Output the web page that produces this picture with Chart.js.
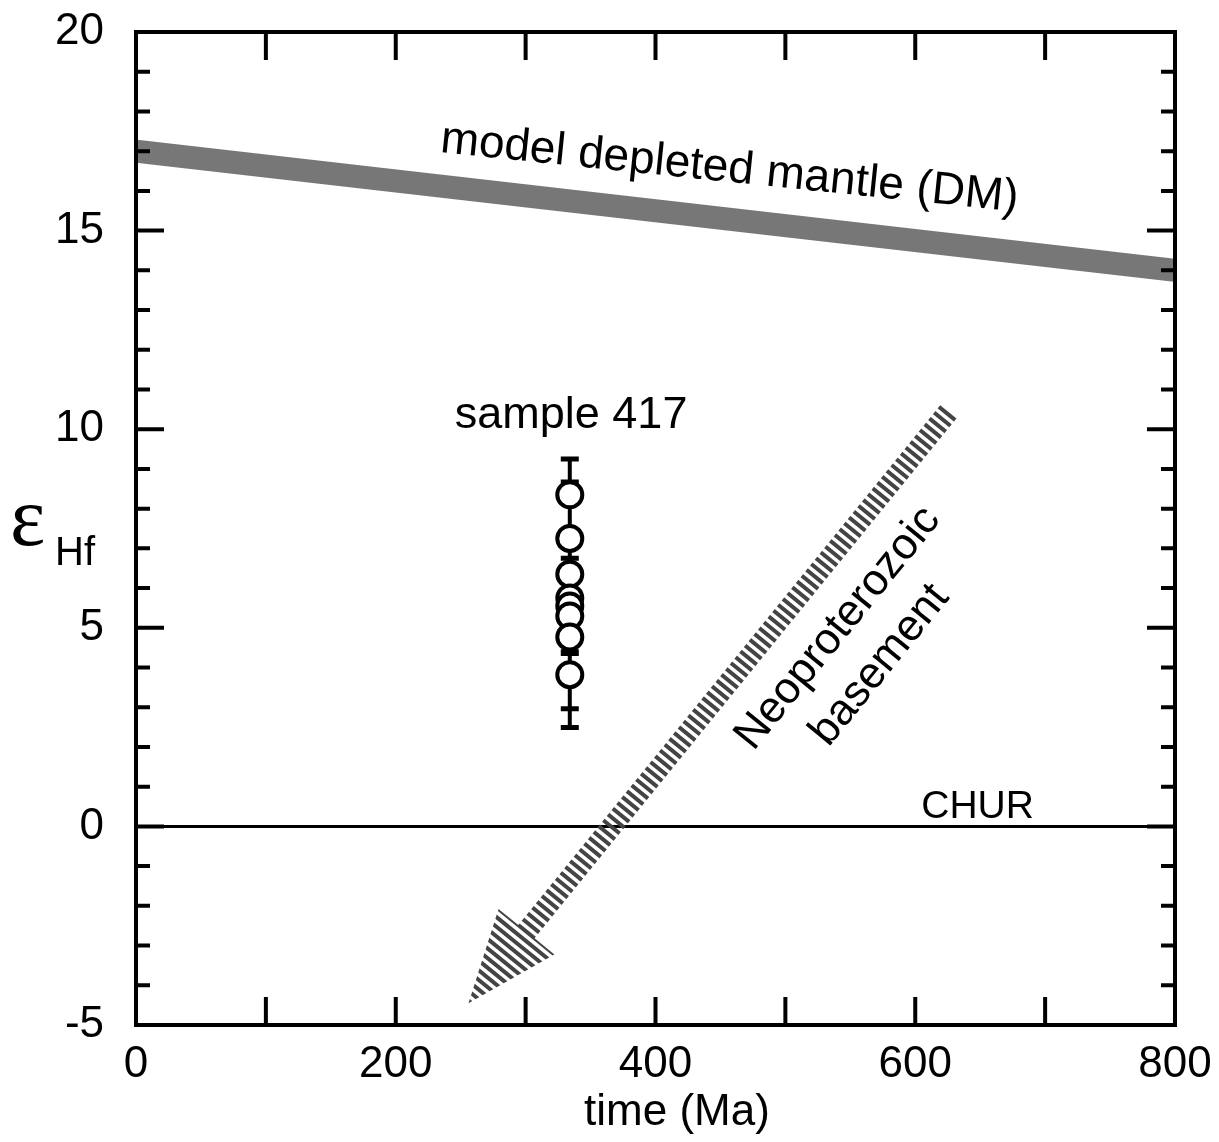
<!DOCTYPE html>
<html lang="en">
<head>
  <meta charset="UTF-8" />
  <title>eHf vs time</title>
  <script src="https://cdn.jsdelivr.net/npm/chart.js"></script>
  <style>
    html, body { margin: 0; padding: 0; background: #fff; }
    #wrap { width: 1219px; height: 1142px; }
  </style>
</head>
<body>
  <div id="wrap"><canvas id="graphe"></canvas></div>
<script>
  // axes
  const xTicks = [0, 200, 400, 600, 800];
  const yTicks = [-5, 0, 5, 10, 15, 20];

  // model depleted mantle (DM) and CHUR reference lines
  const dmTime = [0, 800];
  const dmEps = [17.0, 14.0];
  const churTime = [0, 800];
  const churEps = [0, 0];

  // sample 417 zircons (eHf with 2 sigma)
  const sampleTime = [334, 334, 334, 334, 334, 334, 334, 334];
  const sampleEps = [8.35, 7.25, 6.35, 5.75, 5.55, 5.3, 4.77, 3.82];
  const sampleErr = [0.9, 1.42, 0.9, 1.0, 1.2, 0.9, 2.28, 0.86];

  // Neoproterozoic basement evolution arrow: start, tip
  const arrowTime = [627, 256];
  const arrowEps = [10.5, -4.45];

  const FONT = '"Liberation Sans", Arial, sans-serif';

  function pts(xs, ys) {
    return xs.map((v, i) => ({ x: v, y: ys[i] }));
  }

  // error bars, drawn under the circles
  const errorBars = {
    id: 'errorBars',
    beforeDatasetDraw(chart, args) {
      if (args.index !== 2) return;
      const { ctx, scales: { x, y } } = chart;
      ctx.save();
      ctx.strokeStyle = '#000';
      ctx.lineWidth = 4;
      ctx.beginPath();
      for (let i = 0; i < sampleEps.length; i++) {
        const px = x.getPixelForValue(sampleTime[i]);
        const top = y.getPixelForValue(sampleEps[i] + sampleErr[i]);
        const bot = y.getPixelForValue(sampleEps[i] - sampleErr[i]);
        ctx.moveTo(px, top); ctx.lineTo(px, bot);
      }
      ctx.stroke();
      ctx.lineWidth = 5;
      ctx.beginPath();
      for (let i = 0; i < sampleEps.length; i++) {
        const px = x.getPixelForValue(sampleTime[i]);
        const top = y.getPixelForValue(sampleEps[i] + sampleErr[i]);
        const bot = y.getPixelForValue(sampleEps[i] - sampleErr[i]);
        ctx.moveTo(px - 9, top); ctx.lineTo(px + 9, top);
        ctx.moveTo(px - 9, bot); ctx.lineTo(px + 9, bot);
      }
      ctx.stroke();
      ctx.restore();
    }
  };

  // hatched arrow, labels, frame with inward ticks
  const decor = {
    id: 'decor',
    afterDatasetsDraw(chart) {
      const { ctx, chartArea: a, scales: { x, y } } = chart;

      // arrow
      const tx = x.getPixelForValue(arrowTime[1]), ty = y.getPixelForValue(arrowEps[1]);
      const sx = x.getPixelForValue(arrowTime[0]), sy = y.getPixelForValue(arrowEps[0]);
      const len = Math.hypot(sx - tx, sy - ty);
      const ang = Math.atan2(sy - ty, sx - tx);
      const headLen = 92, headHalf = 36, shaftHalf = 10.5;
      ctx.save();
      ctx.translate(tx, ty);
      ctx.rotate(ang);
      ctx.beginPath();
      ctx.moveTo(0, 0);
      ctx.lineTo(headLen, -headHalf);
      ctx.lineTo(headLen, -shaftHalf);
      ctx.lineTo(len, -shaftHalf);
      ctx.lineTo(len, shaftHalf);
      ctx.lineTo(headLen, shaftHalf);
      ctx.lineTo(headLen, headHalf);
      ctx.closePath();
      ctx.clip();
      ctx.fillStyle = '#444444';
      for (let s = 0; s < len; s += 7.5) ctx.fillRect(s, -headHalf, 4, headHalf * 2);
      ctx.restore();

      // texts
      ctx.save();
      ctx.fillStyle = '#000';
      ctx.font = '45px ' + FONT;
      ctx.textAlign = 'center';
      ctx.textBaseline = 'alphabetic';
      ctx.fillText('sample 417', x.getPixelForValue(335), y.getPixelForValue(10.03));

      // DM label follows the DM line
      const dmAng = Math.atan2(y.getPixelForValue(dmEps[1]) - y.getPixelForValue(dmEps[0]),
                               x.getPixelForValue(dmTime[1]) - x.getPixelForValue(dmTime[0]));
      ctx.save();
      ctx.font = '46px ' + FONT;
      ctx.translate(x.getPixelForValue(456), y.getPixelForValue(16.23));
      ctx.rotate(dmAng * 0.9);
      ctx.fillText('model depleted mantle (DM)', 0, 0);
      ctx.restore();

      ctx.save();
      ctx.font = '39px ' + FONT;
      ctx.fillText('CHUR', x.getPixelForValue(648), y.getPixelForValue(0.21));
      ctx.restore();

      // basement label along the arrow
      ctx.font = '44px ' + FONT;
      ctx.textBaseline = 'middle';
      ctx.save();
      ctx.translate(x.getPixelForValue(540.5), y.getPixelForValue(4.99));
      ctx.rotate(ang);
      ctx.fillText('Neoproterozoic', 0, 0);
      ctx.restore();
      ctx.save();
      ctx.translate(x.getPixelForValue(572.8), y.getPixelForValue(4.06));
      ctx.rotate(ang);
      ctx.fillText('basement', 0, 0);
      ctx.restore();

      // axis titles
      ctx.textBaseline = 'alphabetic';
      ctx.fillText('time (Ma)', x.getPixelForValue(416.5), a.bottom + 100);
      ctx.textAlign = 'left';
      ctx.font = '84px "Liberation Serif", "Times New Roman", serif';
      ctx.fillText('\u03b5', a.left - 126, 545);
      ctx.font = '40px ' + FONT;
      ctx.fillText('Hf', a.left - 81, 565);
      ctx.restore();

      // frame and inward ticks
      ctx.save();
      ctx.strokeStyle = '#000';
      ctx.lineWidth = 4;
      ctx.beginPath();
      for (let v = x.min; v <= x.max; v += 100) {
        const px = x.getPixelForValue(v);
        ctx.moveTo(px, a.bottom); ctx.lineTo(px, a.bottom - 28);
        ctx.moveTo(px, a.top); ctx.lineTo(px, a.top + 28);
      }
      for (let v = y.min; v <= y.max; v += 1) {
        const py = y.getPixelForValue(v);
        const tl = v % 5 === 0 ? 28 : 14;
        ctx.moveTo(a.left, py); ctx.lineTo(a.left + tl, py);
        ctx.moveTo(a.right, py); ctx.lineTo(a.right - tl, py);
      }
      ctx.stroke();
      ctx.strokeRect(a.left, a.top, a.right - a.left, a.bottom - a.top);
      ctx.restore();
    }
  };

  document.addEventListener("DOMContentLoaded", function () {
    const ctx = document.getElementById('graphe').getContext('2d');
    new Chart(ctx, {
      type: 'scatter',
      data: {
        datasets: [
          {
            label: 'DM',
            data: pts(dmTime, dmEps),
            showLine: true,
            borderColor: '#777777',
            borderWidth: 23,
            borderCapStyle: 'butt',
            pointRadius: 0
          },
          {
            label: 'CHUR',
            data: pts(churTime, churEps),
            showLine: true,
            borderColor: '#000000',
            borderWidth: 3,
            pointRadius: 0
          },
          {
            label: 'sample 417',
            data: pts(sampleTime, sampleEps),
            pointRadius: 12.5,
            pointBorderWidth: 4,
            pointBackgroundColor: '#ffffff',
            pointBorderColor: '#000000'
          }
        ]
      },
      options: {
        responsive: true,
        maintainAspectRatio: false,
        animation: false,
        layout: { padding: { top: 32, right: 44, left: 0, bottom: 0 } },
        plugins: { legend: { display: false }, tooltip: { enabled: false } },
        scales: {
          x: {
            type: 'linear',
            min: xTicks[0],
            max: xTicks[xTicks.length - 1],
            afterBuildTicks: s => { s.ticks = xTicks.map(v => ({ value: v })); },
            afterFit: s => { s.height = 117; s.paddingLeft = 0; s.paddingRight = 0; },
            grid: { display: false },
            border: { display: false },
            ticks: { color: '#000', padding: 5, font: { size: 44, family: FONT }, maxRotation: 0 }
          },
          y: {
            type: 'linear',
            min: yTicks[0],
            max: yTicks[yTicks.length - 1],
            afterBuildTicks: s => { s.ticks = yTicks.map(v => ({ value: v })); },
            afterFit: s => { s.width = 136; s.paddingTop = 0; s.paddingBottom = 0; },
            grid: { display: false },
            border: { display: false },
            ticks: { color: '#000', padding: 24, font: { size: 44, family: FONT } }
          }
        }
      },
      plugins: [errorBars, decor]
    });
  });
</script>
</body>
</html>
